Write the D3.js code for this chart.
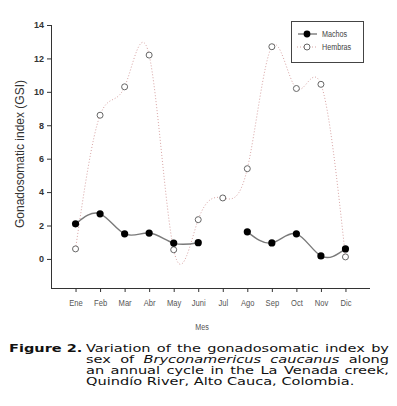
<!DOCTYPE html>
<meta charset="utf-8">
<style>
    body { margin: 0; background: #fff; overflow: hidden; }
</style>
<svg id="canvas" width="397" height="406"></svg>
<script src="https://d3js.org/d3.v7.min.js"></script>
<script>

    var months = ["Ene", "Feb", "Mar", "Abr", "May", "Juni", "Jul", "Ago", "Sep", "Oct", "Nov", "Dic"];
    var machos = [2.1, 2.7, 1.5, 1.55, 0.95, 0.97, null, 1.62, 0.96, 1.5, 0.18, 0.6];
    var hembras = [0.6, 8.6, 10.3, 12.2, 0.55, 2.35, 3.65, 5.4, 12.7, 10.2, 10.45, 0.12];
    var yTicks = [0, 2, 4, 6, 8, 10, 12, 14];

    var caption = [
        [["Variation of the gonadosomatic index by", ""]],
        [["sex of", ""], ["Bryconamericus caucanus", "i"], ["along", ""]],
        [["an annual cycle in the La Venada creek,", ""]],
        [["Quindío River, Alto Cauca, Colombia.", ""]]
    ];

    var svg = d3.select("svg");
    var sans = "'Liberation Sans', Arial, sans-serif";
    var narrow = 0.8;   // horizontal squeeze to mimic Arial Narrow

    var x = d3.scaleLinear().domain([0, 13]).range([51, 370]);
    var y = d3.scaleLinear().domain([-1.74, 14]).range([288, 25]);

    // axes
    var xAxis = svg.append("g")
        .attr("transform", "translate(0,288)")
        .call(d3.axisBottom(x).tickValues(d3.range(1, 13)).tickSize(4).tickPadding(7)
            .tickFormat(function(d) { return months[d - 1]; }));
    xAxis.select(".domain").attr("d", "M51,0.5H370").attr("stroke", "#333");
    xAxis.selectAll(".tick line").attr("stroke", "#333");
    xAxis.selectAll(".tick text")
        .attr("font-family", sans).attr("font-size", 9.5).attr("fill", "#555")
        .attr("transform", "scale(" + narrow + ",1)");

    var yAxis = svg.append("g")
        .attr("transform", "translate(51,0)")
        .call(d3.axisLeft(y).tickValues(yTicks).tickSize(4).tickPadding(3));
    yAxis.select(".domain").attr("d", "M0.5,25V288").attr("stroke", "#333");
    yAxis.selectAll(".tick line").attr("stroke", "#333");
    yAxis.selectAll(".tick text").attr("font-size", 9).attr("font-weight", "bold").attr("fill", "#333")
        .attr("font-family", sans);

    svg.append("text")
        .attr("transform", "translate(24,154) rotate(-90)")
        .attr("text-anchor", "middle")
        .attr("font-family", sans)
        .attr("font-size", 12)
        .attr("fill", "#333")
        .text("Gonadosomatic index (GSI)");

    svg.append("text")
        .attr("transform", "translate(202,330) scale(" + narrow + ",1)")
        .attr("text-anchor", "middle")
        .attr("font-family", sans)
        .attr("font-size", 9)
        .attr("fill", "#555")
        .text("Mes");

    var hData = hembras.map(function(v, i) { return {m: i + 1, v: v}; });
    var mData = machos.map(function(v, i) { return {m: i + 1, v: v}; });

    var line = d3.line()
        .x(function(d) { return x(d.m); })
        .y(function(d) { return y(d.v); })
        .curve(d3.curveNatural);

    svg.append("path")
        .datum(hData)
        .attr("d", line)
        .attr("fill", "none")
        .attr("stroke", "#d8a4a4")
        .attr("stroke-width", 1)
        .attr("stroke-dasharray", "1,2");

    // machos: two pieces split at the missing month
    [mData.slice(0, 6), mData.slice(7)].forEach(function(seg) {
        svg.append("path")
            .datum(seg)
            .attr("d", line)
            .attr("fill", "none")
            .attr("stroke", "#7a7a7a")
            .attr("stroke-width", 1.4);
    });

    svg.append("g").selectAll("circle")
        .data(hData)
        .enter().append("circle")
        .attr("cx", function(d) { return x(d.m); })
        .attr("cy", function(d) { return y(d.v); })
        .attr("r", 3)
        .attr("fill", "#fff")
        .attr("stroke", "#666")
        .attr("stroke-width", 1);

    svg.append("g").selectAll("circle")
        .data(mData.filter(function(d) { return d.v !== null; }))
        .enter().append("circle")
        .attr("cx", function(d) { return x(d.m); })
        .attr("cy", function(d) { return y(d.v); })
        .attr("r", 3.6)
        .attr("fill", "#000");

    // legend
    var lg = svg.append("g");
    lg.append("rect")
        .attr("x", 291.5).attr("y", 21.5).attr("width", 72).attr("height", 41)
        .attr("fill", "#fff").attr("stroke", "#444").attr("stroke-width", 1);
    lg.append("line").attr("x1", 298).attr("x2", 317).attr("y1", 34).attr("y2", 34)
        .attr("stroke", "#7a7a7a").attr("stroke-width", 1.4);
    lg.append("circle").attr("cx", 307).attr("cy", 34).attr("r", 3.4).attr("fill", "#000");
    lg.append("line").attr("x1", 297).attr("x2", 318).attr("y1", 47).attr("y2", 47)
        .attr("stroke", "#d8a4a4").attr("stroke-width", 1).attr("stroke-dasharray", "1,2");
    lg.append("circle").attr("cx", 307).attr("cy", 47).attr("r", 3).attr("fill", "#fff")
        .attr("stroke", "#666");
    lg.selectAll("text.lab").data(["Machos", "Hembras"]).enter().append("text")
        .attr("transform", function(d, i) { return "translate(322," + (37 + i * 13) + ") scale(" + narrow + ",1)"; })
        .attr("font-family", sans)
        .attr("font-size", 9).attr("fill", "#444")
        .text(function(d) { return d; });

    // caption (text in the source is a little stretched horizontally)
    var capFont = "'DejaVu Sans', Verdana, sans-serif";
    var sx = 1.3, capSize = 11.2;
    var cap = svg.append("g").attr("transform", "scale(" + sx + ",1)");
    cap.append("text")
        .attr("x", 9 / sx).attr("y", 352)
        .attr("font-family", capFont).attr("font-size", capSize).attr("font-weight", "bold")
        .attr("fill", "#111")
        .text("Figure 2.");

    var left = 86 / sx, right = 389 / sx;
    caption.forEach(function(parts, li) {
        var yy = 352 + li * 11.1;
        var words = [];
        parts.forEach(function(p) {
            p[0].split(" ").forEach(function(w) { words.push({w: w, it: p[1] === "i"}); });
        });
        var nodes = words.map(function(wd) {
            return cap.append("text")
                .attr("y", yy)
                .attr("font-family", capFont).attr("font-size", capSize)
                .attr("font-style", wd.it ? "italic" : "normal")
                .attr("fill", "#111")
                .text(wd.w);
        });
        var widths = nodes.map(function(n) { return n.node().getComputedTextLength(); });
        var total = d3.sum(widths);
        var gap = li < caption.length - 1 ? (right - left - total) / (words.length - 1) : capSize * 0.32;
        var cx = left;
        nodes.forEach(function(n, i) {
            n.attr("x", cx);
            cx += widths[i] + gap;
        });
    });

</script>
